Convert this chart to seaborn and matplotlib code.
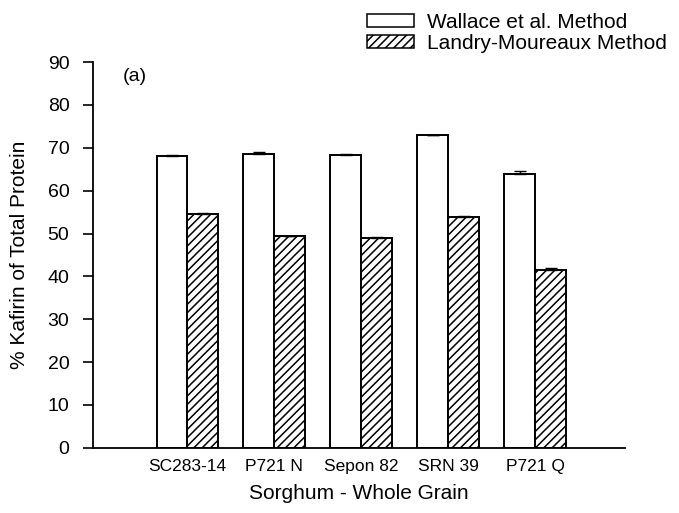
import pandas as pd
import numpy as np
import matplotlib
matplotlib.use('Agg')
import matplotlib.pyplot as plt
import seaborn as sns

# values
varieties = ['SC283-14', 'P721 N', 'Sepon 82', 'SRN 39', 'P721 Q']
methods = ['Wallace et al. Method', 'Landry-Moureaux Method']
wallace = [68.1, 68.5, 68.4, 73.0, 64.0]
wallace_err = [0.3, 0.6, 0.1, 0.1, 0.7]
landry = [54.6, 49.4, 49.0, 53.9, 41.6]
landry_err = [0.1, 0.1, 0.1, 0.3, 0.3]

df = pd.DataFrame({
    'variety': varieties * 2,
    'method': [methods[0]] * len(varieties) + [methods[1]] * len(varieties),
    'kafirin': wallace + landry,
})

sns.set_style('ticks')
plt.rcParams['font.family'] = ['Liberation Sans', 'DejaVu Sans']
plt.rcParams['hatch.linewidth'] = 1.1
for key in ['text.color', 'axes.labelcolor', 'xtick.color', 'ytick.color', 'axes.edgecolor']:
    plt.rcParams[key] = 'black'

fig = plt.figure(figsize=(6.79, 5.13), dpi=100)
ax = fig.add_axes([0.137, 0.127, 0.783, 0.752])

sns.barplot(data=df, x='variety', y='kafirin', hue='method', order=varieties,
            hue_order=methods, palette=['white', 'white'], edgecolor='black',
            linewidth=1.4, width=0.71, errorbar=None, ax=ax, legend=False)

# hatch the Landry-Moureaux bars
for bar in ax.containers[1]:
    bar.set_hatch('////')

# error bars (cap only above the bar)
for cont, err in zip(ax.containers, [wallace_err, landry_err]):
    for bar, e in zip(cont, err):
        xc = bar.get_x() + bar.get_width() / 2
        ax.errorbar(xc, bar.get_height(), yerr=[[0], [e]], fmt='none',
                    ecolor='black', elinewidth=1, capsize=4, capthick=1)

ax.set_ylim(0, 90)
ax.set_yticks(range(0, 91, 10))
ax.set_xlim(-1.086, 4 + 1.03)
sns.despine(ax=ax)
ax.spines['left'].set_linewidth(1.3)
ax.spines['bottom'].set_linewidth(1.3)
ax.tick_params(axis='y', length=7, width=1.2, labelsize=14, pad=10)
ax.tick_params(axis='x', length=0, labelsize=12.5, pad=8)
ax.set_xlabel('Sorghum - Whole Grain', fontsize=15, labelpad=7)
ax.set_ylabel('% Kafirin of Total Protein', fontsize=15, labelpad=13)
ax.text(0.055, 0.985, '(a)', transform=ax.transAxes, fontsize=14, va='top')

handles = [
    plt.Rectangle((0, 0), 1, 1, facecolor='white', edgecolor='black', linewidth=1.1),
    plt.Rectangle((0, 0), 1, 1, facecolor='white', edgecolor='black', linewidth=1.1, hatch='////'),
]
fig.legend(handles, methods, loc='upper right', bbox_to_anchor=(1.0, 1.0),
           frameon=False, fontsize=15, handlelength=2.25, handleheight=0.6,
           handletextpad=0.6, labelspacing=0.1, borderaxespad=0.2)

fig.savefig('out.png', dpi=100)
